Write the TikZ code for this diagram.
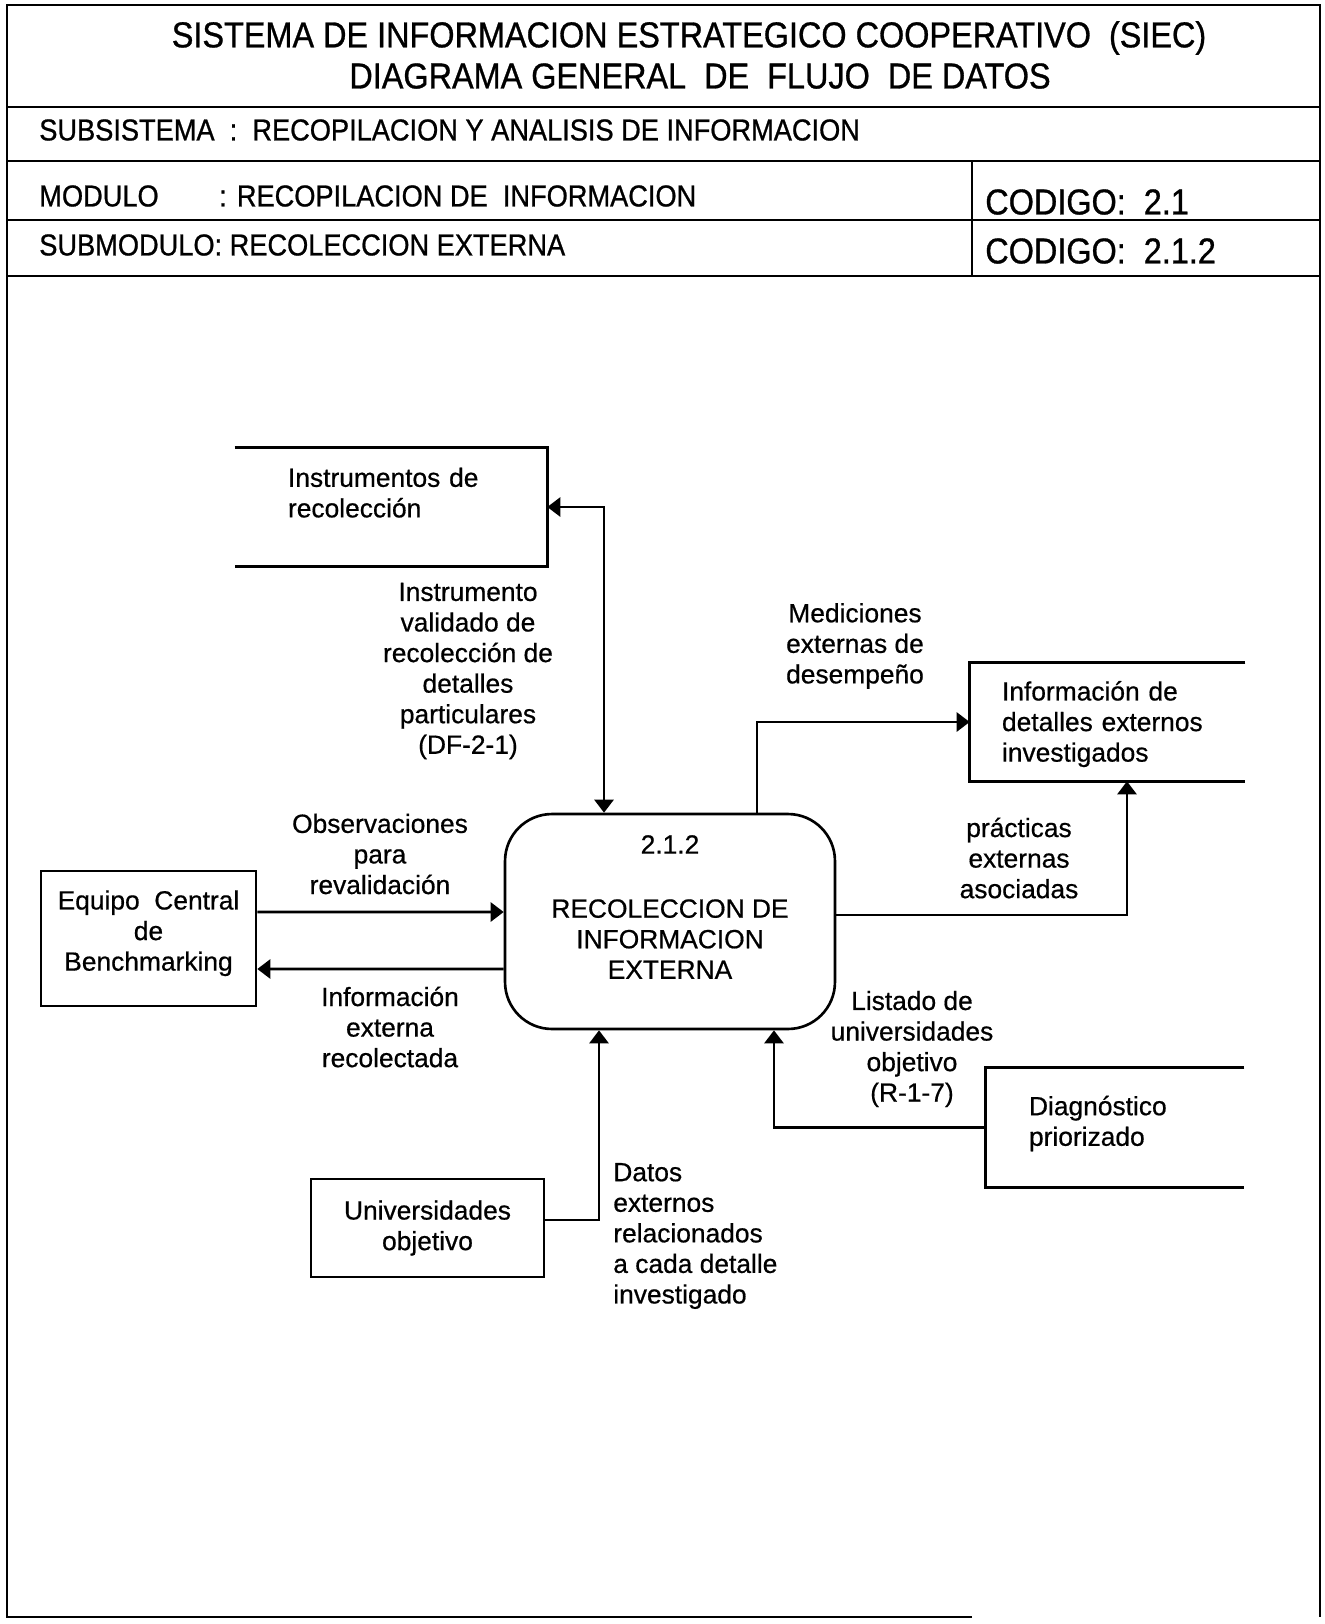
\documentclass[tikz,border=0pt]{standalone}
\usepackage{fontspec}
\setmainfont[FakeBold=0.6]{Liberation Sans}
\newfontfamily\narrowfont[FakeStretch=0.9,FakeBold=0.8]{Liberation Sans}
\usetikzlibrary{arrows.meta}

\begin{document}
\begin{tikzpicture}[>={Triangle[length=0.26cm,width=0.38cm]},line width=1.5pt,
  x=0.02cm,y=-0.02cm,
  every node/.style={inner sep=0pt,font=\fontsize{15pt}{17.4pt}\selectfont},
  hdr/.style={anchor=west,font=\narrowfont\fontsize{17.2pt}{20pt}\selectfont},
  code/.style={anchor=west,font=\narrowfont\fontsize{20.5pt}{24pt}\selectfont},
  title/.style={font=\narrowfont\fontsize{20.5pt}{24pt}\selectfont},
  proc node/.style={draw,rounded corners=0.94cm,align=center,
    minimum width=6.6cm,minimum height=4.3cm},
  ext node/.style={draw,align=center},
  store node/.style={align=left,minimum height=2.32cm},
  flow/.style={align=center}]
  \useasboundingbox (0,0) rectangle (1325,1624);

  % frame and header
  \draw (972,1617) -- (7,1617) -- (7,5) -- (1320,5) -- (1320,1617);
  \foreach \y in {107,161,220,276}
    \draw (7,\y) -- (1320,\y);
  \draw (972,161) -- (972,276);
  \node[title] (title1) at (689,38) {SISTEMA DE INFORMACION ESTRATEGICO COOPERATIVO\ \ (SIEC)};
  \node[title] (title2) at (700,76) {DIAGRAMA GENERAL\ \ DE\ \ FLUJO\ \ DE DATOS};
  \node[hdr] (subsis) at (38,130) {SUBSISTEMA\ \ :\ \ RECOPILACION Y ANALISIS DE INFORMACION};
  \node[hdr] (modulo) at (38,196) {\makebox[3.6cm][l]{MODULO}: RECOPILACION DE\ \ INFORMACION};
  \node[hdr] (submod) at (38,245) {SUBMODULO: RECOLECCION EXTERNA};
  \node[code] (cod1) at (984,202) {CODIGO:\ \ 2.1};
  \node[code] (cod2) at (984,251) {CODIGO:\ \ 2.1.2};

  % process, entities and stores
  \node[proc node,text depth=0.58cm] (proc) at (670,921.5)
    {2.1.2\\[0.67cm]RECOLECCION DE\\INFORMACION\\EXTERNA};
  \node[ext node,minimum width=4.3cm,minimum height=2.7cm,text depth=0.32cm] (equipo) at (148.5,938.5)
    {Equipo\ \ Central\\de\\Benchmarking};
  \node[ext node,minimum width=4.66cm,minimum height=1.96cm] (univ) at (427.5,1228)
    {Universidades\\objetivo};
  \node[store node,inner xsep=1.04cm,text width=4.12cm,text depth=1.19cm] (instr) at (391,507)
    {Instrumentos de\\recolección};
  \node[store node,inner xsep=0.62cm,text width=4.22cm,text depth=1.25cm] (info) at (1107.5,722)
    {Información de\\detalles externos\\investigados};
  \node[store node,inner xsep=0.84cm,text width=3.44cm,minimum height=2.34cm,text depth=0.88cm] (diag) at (1115,1127.5)
    {Diagnóstico\\priorizado};
  \draw (instr.north west) -- (instr.north east) -- (instr.south east) -- (instr.south west);
  \draw (info.north east) -- (info.north west) -- (info.south west) -- (info.south east);
  \draw (diag.north east) -- (diag.north west) -- (diag.south west) -- (diag.south east);

  % data flows
  \draw[<->] (instr.east) -| ([xshift=-1.32cm]proc.north);
  \draw[->] ([xshift=1.74cm]proc.north) |- (info.west);
  \draw[->] ([yshift=0.13cm]proc.east) -| ([xshift=0.39cm]info.south);
  \draw[->] ([yshift=0.53cm]equipo.east) -- ([yshift=0.19cm]proc.west);
  \draw[->] ([yshift=-0.95cm]proc.west) -- ([yshift=-0.61cm]equipo.east);
  \draw[->] ([yshift=0.16cm]univ.east) -| ([xshift=-1.42cm]proc.south);
  \draw[->] (diag.west) -| ([xshift=2.08cm]proc.south);

  \node[flow] (lblinstr) at (468,671)
    {Instrumento\\validado de\\recolección de\\detalles\\particulares\\(DF-2-1)};
  \node[flow] (lblmed) at (855,646) {Mediciones\\externas de\\desempeño};
  \node[flow] (lblprac) at (1019,858) {prácticas\\externas\\asociadas};
  \node[flow] (lblobs) at (380,854) {Observaciones\\para\\revalidación};
  \node[flow] (lblinfo) at (390,1027) {Información\\externa\\recolectada};
  \node[align=left,anchor=west] (lbldatos) at (612,1236)
    {Datos\\externos\\relacionados\\a cada detalle\\investigado};
  \node[flow] (lbllist) at (912,1049) {Listado de\\universidades\\objetivo\\(R-1-7)};
\end{tikzpicture}
\end{document}
